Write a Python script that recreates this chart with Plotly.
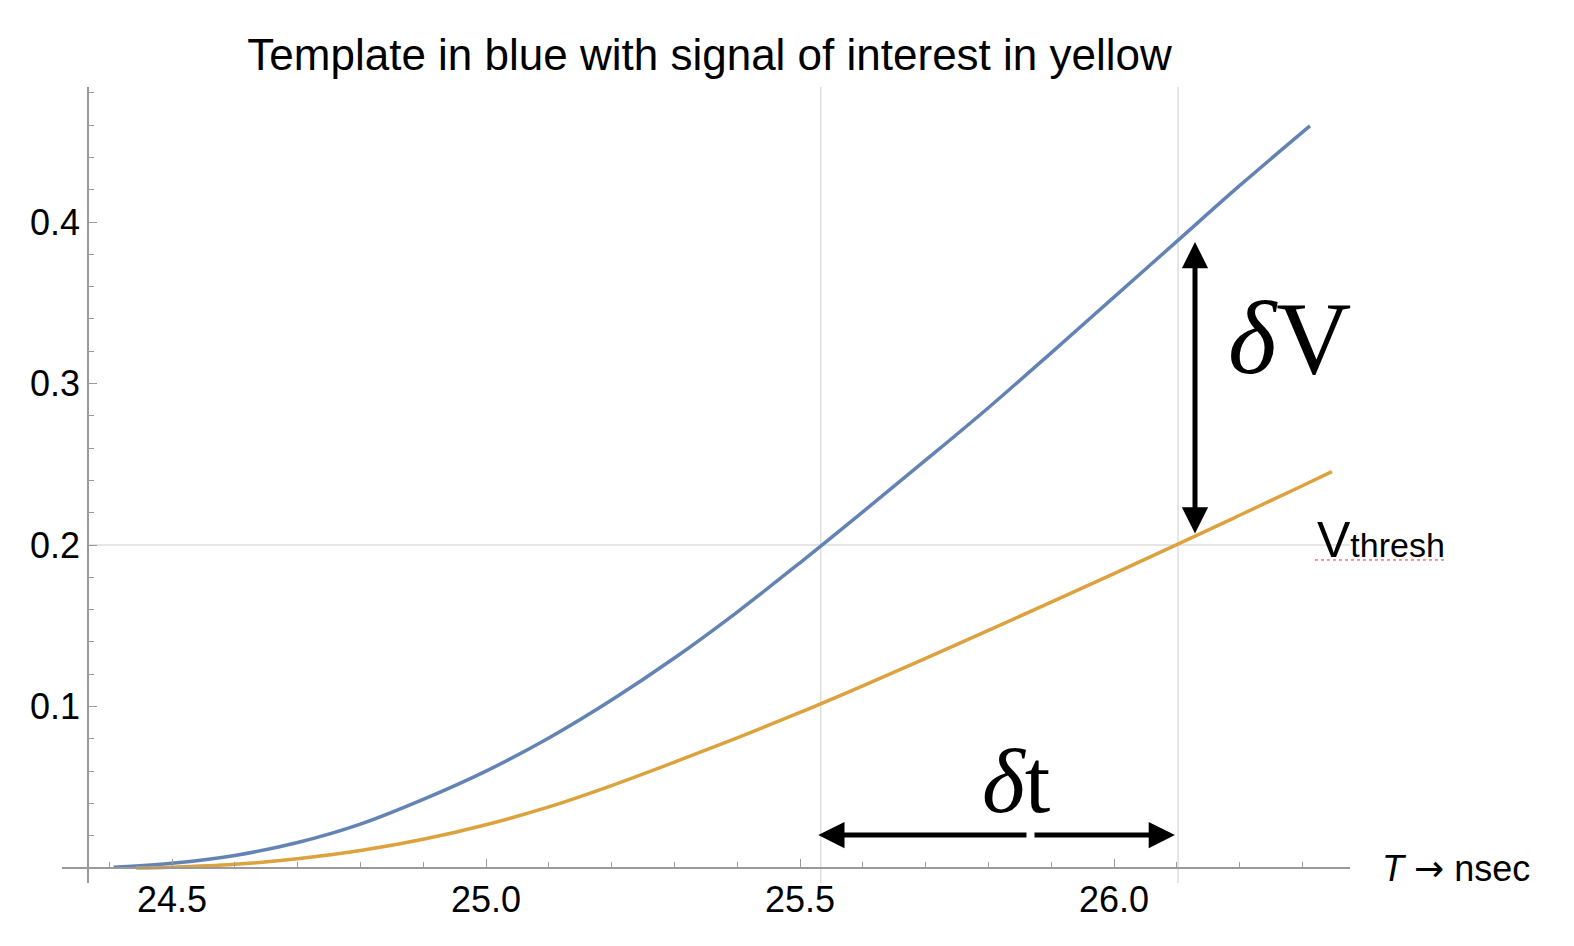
import plotly.graph_objects as go

# template pulse (blue) and signal of interest (yellow)
t_template = [24.407, 24.5, 24.6, 24.7, 24.8, 24.9, 25.0, 25.1, 25.2, 25.3, 25.4,
              25.5, 25.6, 25.7, 25.8, 25.9, 26.0, 26.1, 26.2, 26.312]
v_template = [0.0005, 0.0030, 0.0078, 0.0158, 0.0272, 0.0425, 0.0600, 0.0805, 0.1040, 0.1300, 0.1585,
              0.1890, 0.2205, 0.2525, 0.2850, 0.3190, 0.3535, 0.3880, 0.4225, 0.4595]

t_signal = [24.443, 24.5, 24.6, 24.7, 24.8, 24.9, 25.0, 25.1, 25.2, 25.3, 25.4,
            25.5, 25.6, 25.7, 25.8, 25.9, 26.0, 26.1, 26.2, 26.3, 26.347]
v_signal = [0.0, 0.0005, 0.0023, 0.0057, 0.0108, 0.0178, 0.0268, 0.0378, 0.0510, 0.0655, 0.0806,
            0.0963, 0.1128, 0.1298, 0.1471, 0.1646, 0.1823, 0.2002, 0.2184, 0.2367, 0.2454]

# grid lines: where each curve crosses the threshold
grid_t = [25.533, 26.102]
v_thresh = 0.2

# delta V arrow (vertical) and delta t arrow (horizontal, drawn in two halves)
dv_t = 26.129
dv_lo, dv_hi = 0.2062, 0.3876
dt_v = 0.0204
dt_left, dt_gap_l, dt_gap_r, dt_right = 25.529, 25.863, 25.871, 26.097

x_major = [24.5, 25.0, 25.5, 26.0]
y_major = [0.1, 0.2, 0.3, 0.4]

x_range = [24.3248, 26.3758]
y_range = [-0.00929, 0.4836]
y_axis_at = 24.366

SANS = "Liberation Sans, Arial, Helvetica, sans-serif"
SERIF = "Liberation Serif, Times New Roman, serif"
AXIS_GRAY = "#9a9a9a"

fig = go.Figure()

fig.add_trace(go.Scatter(x=t_template, y=v_template, mode="lines",
                         line=dict(color="#6483B5", width=3.5, shape="spline", smoothing=1)))
fig.add_trace(go.Scatter(x=t_signal, y=v_signal, mode="lines",
                         line=dict(color="#DCA23E", width=3.5, shape="spline", smoothing=1)))

# grid lines
shapes = []
for t in grid_t:
    shapes.append(dict(type="line", xref="x", yref="paper", x0=t, x1=t, y0=0, y1=1,
                       line=dict(color="#dedede", width=1.5), layer="below"))
yfrac = (y_axis_at - x_range[0]) / (x_range[1] - x_range[0])
shapes.append(dict(type="line", xref="paper", yref="y", x0=yfrac, x1=1, y0=v_thresh, y1=v_thresh,
                   line=dict(color="#dedede", width=1.5), layer="below"))
# spell-check squiggle under V_thresh
shapes.append(dict(type="line", xref="paper", yref="paper", x0=0.9728, x1=1.0753, y0=0.4058, y1=0.4058,
                   line=dict(color="#e03030", width=1, dash="dot")))

arrow = dict(showarrow=True, arrowhead=2, arrowwidth=5, arrowsize=1.05, arrowcolor="black",
             axref="x", ayref="y", xref="x", yref="y", text="")
annotations = [
    dict(arrow, x=dv_t, y=dv_hi, ax=dv_t, ay=dv_lo, arrowside="end+start"),
    dict(arrow, x=dt_left, y=dt_v, ax=dt_gap_l, ay=dt_v),
    dict(arrow, x=dt_right, y=dt_v, ax=dt_gap_r, ay=dt_v),
    dict(text="<i>δ</i>V", x=26.279, y=0.3288, xref="x", yref="y", showarrow=False,
         font=dict(family=SERIF, size=104, color="black")),
    dict(text="<i>δ</i>t", x=25.844, y=0.054, xref="x", yref="y", showarrow=False,
         font=dict(family=SERIF, size=92, color="black")),
    dict(text='V<span style="font-size:34px">thresh</span>', x=26.320, y=0.203, xref="x", yref="y",
         xanchor="left", showarrow=False, font=dict(family=SANS, size=50, color="black")),
    dict(text='<i>T</i> <span style="font-family:DejaVu Sans">→</span> nsec', x=1.0233, y=0,
         xref="paper", yref="y", xanchor="left", yanchor="middle", showarrow=False,
         font=dict(family=SANS, size=36, color="black")),
]

fig.update_layout(
    width=1574, height=946,
    margin=dict(l=62, r=224, t=87, b=63),
    paper_bgcolor="white", plot_bgcolor="white",
    showlegend=False,
    title=dict(text="Template in blue with signal of interest in yellow",
               x=0.4508, xanchor="center", y=0.9419, yanchor="middle",
               font=dict(family=SANS, size=44, color="black")),
    font=dict(family=SANS, size=36, color="black"),
    shapes=shapes,
    annotations=annotations,
)

fig.update_xaxes(
    range=x_range, anchor="free", position=(0 - y_range[0]) / (y_range[1] - y_range[0]),
    showgrid=False, zeroline=False, showline=True, linecolor=AXIS_GRAY, linewidth=1.5,
    tickmode="array", tickvals=x_major, ticktext=[f"{v:.1f}" for v in x_major],
    ticks="inside", ticklen=8, tickcolor=AXIS_GRAY, tickwidth=1.2,
    minor=dict(ticks="inside", ticklen=5, tickcolor=AXIS_GRAY, tickwidth=1.2, dtick=0.1, tick0=24.0),
    tickfont=dict(size=36),
)
fig.update_yaxes(
    range=y_range, anchor="free", position=yfrac,
    showgrid=False, zeroline=False, showline=True, linecolor=AXIS_GRAY, linewidth=1.5,
    tickmode="array", tickvals=y_major, ticktext=[f"{v:.1f}" for v in y_major],
    ticks="inside", ticklen=8, tickcolor=AXIS_GRAY, tickwidth=1.2,
    minor=dict(ticks="inside", ticklen=5, tickcolor=AXIS_GRAY, tickwidth=1.2, dtick=0.02, tick0=0),
    tickfont=dict(size=36),
)

# default page body has an 8px margin; drop it so the figure sits at the window's corner
fig.write_html("out.html", config={"displayModeBar": False},
               post_script="document.body.style.margin='0px';")
